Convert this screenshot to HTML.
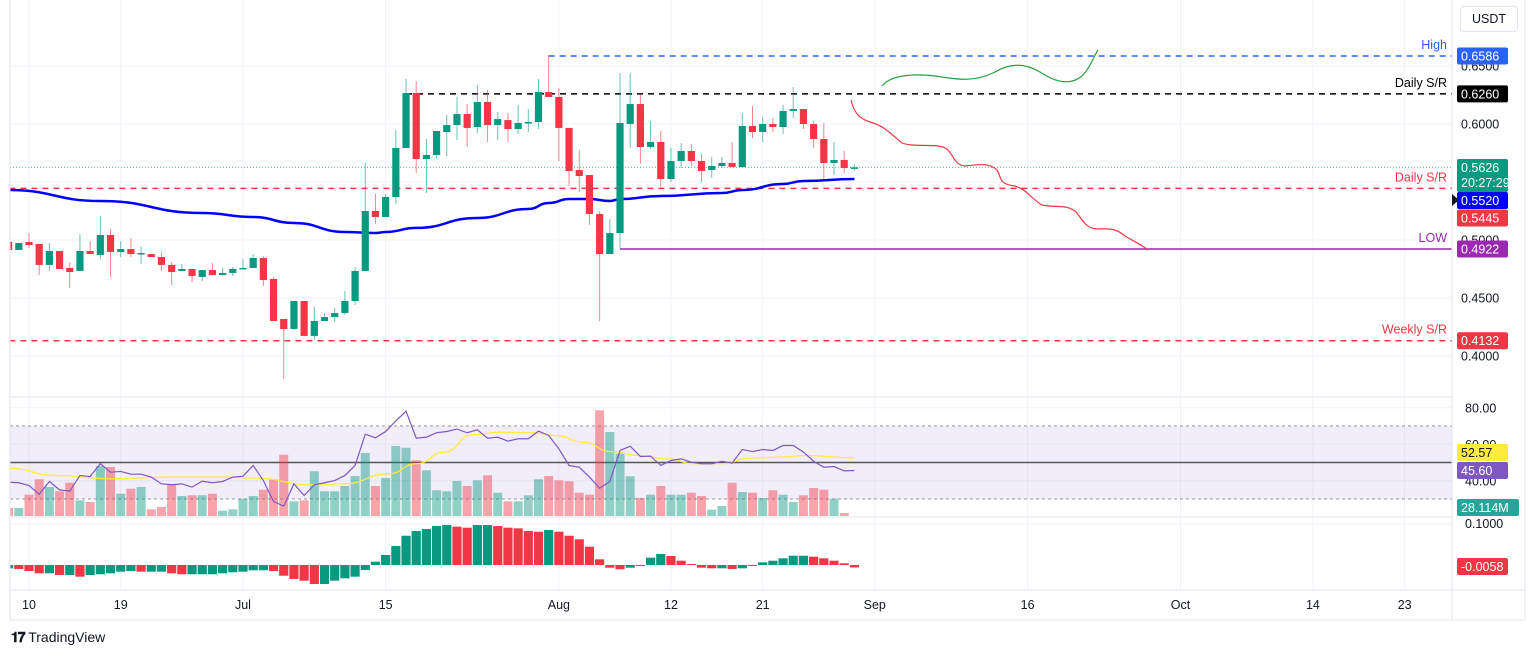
<!DOCTYPE html>
<html><head><meta charset="utf-8"><style>
html,body{margin:0;padding:0;background:#fff;width:1536px;height:657px;overflow:hidden}
svg{display:block;font-family:"Liberation Sans",sans-serif}
</style></head><body>
<svg id="chart" width="1536" height="657" viewBox="0 0 1536 657" xmlns="http://www.w3.org/2000/svg">
<rect x="0" y="0" width="1536" height="657" fill="#fff"/>
<defs>
<clipPath id="pc"><rect x="10" y="0" width="1442" height="396"/></clipPath>
<clipPath id="rc"><rect x="10" y="398" width="1442" height="118"/></clipPath>
<clipPath id="mc"><rect x="10" y="518" width="1442" height="72"/></clipPath>
</defs>
<g id="grid"></g>
<rect x="10" y="426" width="1442" height="73" fill="#7e57c2" fill-opacity="0.1"/>
<g id="price" clip-path="url(#pc)"></g>
<g id="rsi" clip-path="url(#rc)"></g>
<g id="macd" clip-path="url(#mc)"></g>
<g id="axes"></g>
</svg>
<script>
// ===== data =====
const startIndex = -2; // first visible candle = Jun 8
const opens = [.4983,.4914,.4983,.4966,.4785,.4905,.4759,.4733,.4905,.4871,.5043,.4897,.4922,.4879,.4879,.4853,.4785,.4733,.4750,.4681,.4741,.4698,.4716,.4750,.4759,.4845,.4664,.4319,.4233,.4474,.4173,.4302,.4336,.4371,.4474,.4733,.5250,.5198,.5371,.5793,.6267,.5698,.5733,.5931,.5991,.6086,.5974,.6190,.5991,.6034,.5957,.6017,.6017,.6276,.6233,.5966,.5603,.5560,.5224,.4879,.5060,.6000,.6172,.5802,.5845,.5526,.5681,.5767,.5681,.5603,.5638,.5664,.5629,.5983,.5931,.6000,.5974,.6112,.6129,.6000,.5871,.5664,.5690,.5618];
const highs = [.4990,.4974,.5060,.4966,.4974,.4905,.4810,.5052,.4991,.5207,.5095,.4991,.5017,.4948,.4879,.4897,.4810,.4793,.4750,.4741,.4802,.4759,.4767,.4836,.4879,.4862,.4681,.4319,.4474,.4474,.4423,.4371,.4414,.4560,.4767,.5664,.5397,.5397,.5948,.6388,.6371,.5871,.5940,.6078,.6233,.6172,.6336,.6293,.6103,.6095,.6164,.6129,.6388,.6595,.6310,.5966,.5776,.5560,.5250,.5181,.6440,.6440,.6250,.6026,.5940,.5793,.5836,.5828,.5741,.5716,.5716,.5845,.6095,.6155,.6060,.6052,.6164,.6319,.6129,.6026,.6009,.5845,.5767,.5652];
const lows = [.4914,.4914,.4931,.4698,.4733,.4750,.4586,.4733,.4879,.4836,.4681,.4853,.4853,.4793,.4853,.4733,.4612,.4733,.4638,.4647,.4698,.4698,.4690,.4750,.4759,.4604,.4302,.3802,.4224,.4173,.4138,.4302,.4293,.4354,.4440,.4733,.5138,.5198,.5310,.5793,.5578,.5405,.5698,.5724,.5862,.5802,.5922,.5845,.5862,.5845,.5914,.5931,.5957,.6233,.5681,.5466,.5414,.5129,.4302,.4879,.4922,.5793,.5655,.5785,.5457,.5500,.5621,.5638,.5500,.5535,.5621,.5629,.5629,.5879,.5845,.5931,.5914,.6052,.5957,.5793,.5526,.5560,.5578,.5603];
const closes = [.4914,.4974,.4957,.4785,.4905,.4750,.4724,.4905,.4879,.5043,.4897,.4922,.4879,.4888,.4853,.4785,.4724,.4750,.4690,.4741,.4698,.4716,.4750,.4759,.4845,.4655,.4302,.4233,.4474,.4173,.4302,.4336,.4371,.4474,.4733,.5250,.5198,.5371,.5793,.6267,.5698,.5733,.5940,.5991,.6086,.5966,.6190,.5991,.6043,.5957,.6009,.6017,.6276,.6233,.5966,.5595,.5552,.5224,.4879,.5060,.6009,.6172,.5802,.5845,.5526,.5681,.5767,.5681,.5595,.5638,.5664,.5629,.5983,.5931,.6000,.5974,.6112,.6129,.6000,.5871,.5664,.5690,.5621,.5626];
const volumes = [63,63,156,264,210,180,240,117,105,357,350,163,198,210,54,70,226,147,152,152,163,44,54,128,147,191,264,436,110,117,320,180,180,217,287,448,217,273,497,485,397,327,187,180,252,217,257,292,170,110,110,152,264,287,257,250,170,156,747,595,443,285,133,156,217,156,156,170,147,51,77,240,175,170,133,187,156,105,152,203,191,128,28];
// MA200 anchor readings (candle index, value)
const maIdx = [-2,7,17,22,26,31,34,35,38,44,49,51,53,55,57,58,62,68,70,74,76,81];
const maVal = [.5431,.5336,.5233,.5198,.5147,.5069,.5060,.5069,.5104,.5190,.5267,.5319,.5353,.5353,.5336,.5353,.5379,.5405,.5431,.5483,.5509,.5526];
const rsiVals = [39.2,38.9,37.4,32.6,39.6,35.0,34.3,42.9,42.3,49.3,44.7,45.1,43.6,43.6,42.0,38.3,37.8,38.3,36.5,39.8,38.9,39.6,42.0,42.5,48.4,40.1,28.6,26.1,38.3,31.9,37.8,38.9,40.1,42.9,48.4,65.5,63.5,67.0,72.8,78.1,63.3,63.9,66.3,67.0,68.3,66.3,67.9,63.3,63.9,61.7,63.0,63.0,67.2,64.8,57.5,48.4,47.4,42.0,35.9,39.6,56.6,58.9,53.3,53.5,48.4,51.1,52.0,50.2,49.3,49.3,50.7,49.6,57.1,56.0,57.1,56.6,59.3,59.3,55.7,50.7,47.4,47.8,45.4,45.6];
const rsiMaIdx = [-2,2.6,8.1,13.5,18.9,22.2,27.7,30.9,35.3,38,40.8,43.5,46.2,49.5,51.7,54.4,57.1,59.9,62.6,65.3,68,70.8,73.5,76.2,81];
const rsiMaVal = [46.9,42.9,41.1,42.0,42.0,41.4,37.8,38.3,43.8,49.3,55.7,65.2,66.6,66.3,64.8,61.1,56.0,53.8,52.0,49.3,49.3,52.4,52.9,53.8,52.57];
const macdHist = [-8,-9.5,-14.3,-19.8,-19.8,-23.8,-23.8,-27.8,-23.8,-22.1,-19.8,-15.9,-14.3,-15.9,-15.9,-15.9,-19.8,-22.1,-22.1,-22.1,-22.1,-19.8,-17.4,-15.9,-12.6,-12.6,-14.3,-25.5,-33.3,-37.4,-45.2,-45.2,-37.4,-31.7,-27.8,-11.9,7.9,23.8,45.2,69.7,80.9,85.7,92.8,95.2,91.2,88.8,95.2,95.2,92.8,88.8,87.3,80.9,79.3,83.3,79.3,69.7,61.2,43.6,13.6,-6.4,-10.2,-6.4,-1.2,17.4,26.2,21.4,10.2,2.4,-6.4,-7.9,-7.9,-9.5,-7.9,-1.7,6.4,10.2,15.9,22.1,22.1,19.8,15.9,10.2,4,-5.8]; // x 1e-3
const priceTicks = [0.65,0.60,0.55,0.50,0.45,0.40];
const priceTickLabels = ["0.6500","0.6000","","0.5000","0.4500","0.4000"];
const dateIdx = [0,9,21,35,52,63,72,83,98,113,126,135];
const dateLabels = ["10","19","Jul","15","Aug","12","21","Sep","16","Oct","14","23"];
const levels = [
 {name:"high-line",p:0.6586,from:51,color:"#2962ff",dash:"6 5",w:1.5,label:"High",tag:"0.6586",tagBg:"#2962ff"},
 {name:"daily-sr-upper",p:0.6260,from:37,color:"#000",dash:"6 5",w:1.5,label:"Daily S/R",tag:"0.6260",tagBg:"#000"},
 {name:"daily-sr-lower",p:0.5445,from:-3,color:"#f23645",dash:"6 5",w:1.5,label:"Daily S/R",tag:"0.5445",tagBg:"#f23645",tagY:218},
 {name:"low-line",p:0.4922,from:58,color:"#9c27b0",dash:"",w:1.5,label:"LOW",tag:"0.4922",tagBg:"#9c27b0"},
 {name:"weekly-sr",p:0.4132,from:-3,color:"#f23645",dash:"6 5",w:1.5,label:"Weekly S/R",tag:"0.4132",tagBg:"#f23645"}
];
// ===== scales =====
const X = i => 29 + i*10.19;
const YP = p => 124 + (0.6-p)*1160;
const YR = v => 462.5 - (v-50)*1.825;
const YV = v => 517 - v/7;
const YM = v => 565 - v*0.42;
const NS="http://www.w3.org/2000/svg";
function mk(tag,parent,attrs){const e=document.createElementNS(NS,tag);for(const k in attrs)e.setAttribute(k,attrs[k]);parent.appendChild(e);return e;}
const G=document.getElementById('grid'),P=document.getElementById('price'),R=document.getElementById('rsi'),M=document.getElementById('macd'),A=document.getElementById('axes');
const UP="#089981",DN="#f23645";
// grid
priceTicks.forEach((p,k)=>{const l=mk('line',G,{x1:10,x2:1452,y1:YP(p),y2:YP(p),stroke:"#f0f3fa"});

});
[80,60,40].forEach(v=>{const l=mk('line',G,{x1:10,x2:1452,y1:YR(v),y2:YR(v),stroke:"#f0f3fa"});

});
mk('line',G,{x1:10,x2:1452,y1:524,y2:524,stroke:"#f0f3fa"});
dateIdx.forEach(d=>{const l=mk('line',G,{x1:X(d),x2:X(d),y1:0,y2:590,stroke:"#f0f3fa"});

});
// current price dotted line
{const l=mk('line',P,{x1:10,x2:1452,y1:YP(closes[closes.length-1]),y2:YP(closes[closes.length-1]),stroke:UP,"stroke-dasharray":"1 2","stroke-opacity":0.7});

}
// levels
levels.forEach(L=>{const y=YP(L.p);
const l=mk('line',P,{x1:X(L.from),x2:1452,y1:y,y2:y,stroke:L.color,"stroke-width":L.w});
if(L.dash)l.setAttribute('stroke-dasharray',L.dash);


const t=mk('text',P,{x:1447,y:y-7,"text-anchor":"end","font-size":12.5,fill:L.color});t.textContent=L.label;

});
// MA200
{let d="";for(let k=0;k<maIdx.length;k++){const x=X(maIdx[k]),y=YP(maVal[k]);
if(k==0)d+="M"+x+" "+y;else{const px=X(maIdx[k-1]),py=YP(maVal[k-1]);d+=" C"+((px+x)/2)+" "+py+" "+((px+x)/2)+" "+y+" "+x+" "+y;}}
const p=mk('path',P,{d:d,fill:"none",stroke:"#0000ff","stroke-width":2.5});

}
// candles
opens.forEach((o,k)=>{const i=k+startIndex,c=closes[k],h=highs[k],l=lows[k],col=c>=o?UP:DN,x=X(i);
const w=mk('line',P,{x1:x,x2:x,y1:YP(h),y2:YP(l),stroke:col,"stroke-opacity":0.6});


const top=YP(Math.max(o,c)),bh=Math.max(1.5,Math.abs(YP(o)-YP(c)));
const b=mk('rect',P,{x:x-3.6,y:top,width:7.2,height:bh,fill:col});

});
// hand drawn curves
{const g=mk('path',P,{d:"M882 86 C890 76 910 73 935 76 C960 80 975 82 995 72 C1010 63 1025 63 1040 72 C1055 82 1070 86 1082 76 C1090 68 1093 58 1098 50",fill:"none",stroke:"#2ea043","stroke-width":1.2});


const r=mk('path',P,{d:"M851 100 C854 112 858 118 870 122 C885 126 892 135 902 143 C915 148 940 142 948 150 C955 158 955 165 965 166 C980 164 990 163 997 170 C1002 178 998 184 1015 186 C1028 190 1030 198 1042 205 C1055 208 1068 204 1076 212 C1083 220 1085 228 1097 229 C1112 228 1118 230 1125 236 C1135 242 1142 245 1148 250",fill:"none",stroke:"#f23645","stroke-width":1.2});

}
// RSI pane lines
[[70,"3 3","#9598a1",1],[30,"3 3","#9598a1",1],[50,"","#555",1.5]].forEach(a=>{const l=mk('line',R,{x1:10,x2:1452,y1:YR(a[0]),y2:YR(a[0]),stroke:a[2],"stroke-width":a[3]});
if(a[1])l.setAttribute('stroke-dasharray',a[1]);

});
// volume
volumes.forEach((v,k)=>{const i=k+startIndex,col=closes[k]>=opens[k]?UP:DN,x=X(i);
const b=mk('rect',R,{x:x-4.5,y:YV(v),width:9,height:517-YV(v),fill:col,"fill-opacity":0.45});

});
// RSI MA
{let d="";for(let k=0;k<rsiMaIdx.length;k++){const x=X(rsiMaIdx[k]),y=YR(rsiMaVal[k]);
if(k==0)d+="M"+x+" "+y;else{const px=X(rsiMaIdx[k-1]),py=YR(rsiMaVal[k-1]);d+=" C"+((px+x)/2)+" "+py+" "+((px+x)/2)+" "+y+" "+x+" "+y;}}
const p=mk('path',R,{d:d,fill:"none",stroke:"#ffeb3b","stroke-width":1.3});

}
{const d=rsiVals.map((v,k)=>(k?"L":"M")+X(k+startIndex)+" "+YR(v)).join(" ");
const p=mk('path',R,{d:d,fill:"none",stroke:"#7e57c2","stroke-width":1.2});

}
// MACD histogram
macdHist.forEach((v,k)=>{const i=k+startIndex,prev=k?macdHist[k-1]:v,col=v>=prev?"#089981":"#f23645",x=X(i),y0=YM(0),y1=YM(v);
const b=mk('rect',M,{x:x-4.6,y:Math.min(y0,y1),width:9.2,height:Math.max(1,Math.abs(y1-y0)),fill:col});

});
// pane borders
[[10,397,1452,397],[10,517,1452,517],[10,590,1525,590],[1452,0,1452,620],[10,0,10,620],[10,620,1525,620],[1525,0,1525,620]].forEach(a=>{const l=mk('line',A,{x1:a[0],y1:a[1],x2:a[2],y2:a[3],stroke:"#e0e3eb"});

});
// price axis labels
priceTicks.forEach((p,k)=>{if(!priceTickLabels[k])return;const t=mk('text',A,{x:1461,y:YP(p)+4.5,"font-size":12.5,fill:"#131722"});t.textContent=priceTickLabels[k];

});
[80,60,40].forEach(v=>{const t=mk('text',A,{x:1465,y:YR(v)+4.5,"font-size":12.5,fill:"#131722"});t.textContent=v.toFixed(2);

});
{const t=mk('text',A,{x:1465,y:528,"font-size":12.5,fill:"#131722"});t.textContent="0.1000";

}
// date labels
dateIdx.forEach((d,k)=>{const t=mk('text',A,{x:X(d),y:609,"text-anchor":"middle","font-size":12.5,fill:"#131722"});t.textContent=dateLabels[k];

});
// tags
function tag(name,y,h,bg,fg,txt,w){const r=mk('rect',A,{x:1457,y:y,width:w||51,height:h,fill:bg,rx:2});


txt.forEach((s,j)=>{const t=mk('text',A,{x:1461,y:y+13+j*15,"font-size":12.5,fill:fg});t.textContent=s;

});}
levels.forEach(L=>{const y=L.tagY!==undefined?L.tagY-8.5:YP(L.p)-8.5;tag(L.name+'-tag',y,17,L.tagBg,"#fff",[L.tag]);});
tag('last-price-tag',159,33,"#089981","#fff",["0.5626","20:27:29"]);
mk('path',A,{d:"M1452 194 L1459 200 L1452 206 Z",fill:"#131722"});
tag('ma200-tag',192,17,"#0000ff","#fff",["0.5520"]);
tag('rsi-ma-tag',444,17,"#ffeb3b","#131722",["52.57"]);
tag('rsi-tag',462,17,"#7e57c2","#fff",["45.60"]);
tag('volume-tag',499,17,"#26a69a","#fff",["28.114M"],62);
tag('macd-tag',558,17,"#f23645","#fff",["-0.0058"]);
</script>
<text x="20" y="23" font-family="Liberation Sans, sans-serif" font-size="13" fill="#131722">XRP / TetherUS, 1D, BINANCE <tspan dx="3">O</tspan><tspan fill="#089981">0.5618</tspan><tspan dx="6">H</tspan><tspan fill="#089981">0.5652</tspan><tspan dx="6">L</tspan><tspan fill="#089981">0.5603</tspan><tspan dx="6">C</tspan><tspan fill="#089981">0.5626</tspan><tspan dx="6" fill="#089981">+0.0007 (+0.12%)</tspan></text>
<div style="position:absolute;left:1460px;top:6px;width:58px;height:26px;border:1px solid #e0e3eb;border-radius:4px;box-sizing:border-box;font:12.5px 'Liberation Sans',sans-serif;color:#131722;text-align:center;line-height:24px;background:#fff">USDT</div>
<div style="position:absolute;left:11px;top:629px;font:14px 'Liberation Sans',sans-serif;color:#131722"><b style="letter-spacing:-1px">𝟏𝟕</b> TradingView</div>
</body></html>
